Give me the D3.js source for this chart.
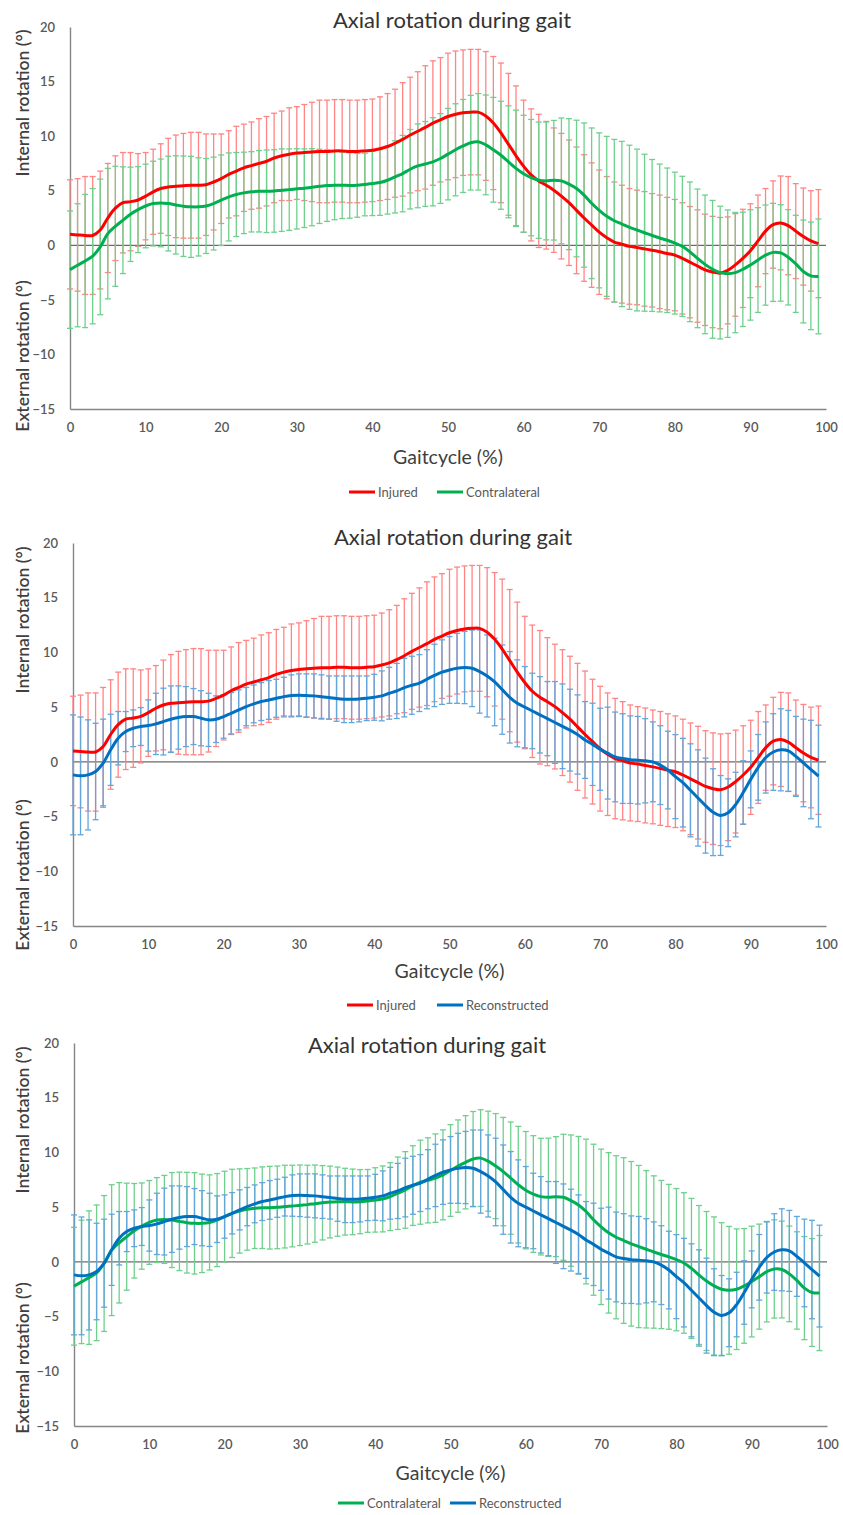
<!DOCTYPE html>
<html>
<head>
<meta charset="utf-8">
<script src="https://cdn.jsdelivr.net/npm/d3@7"></script>
<style>
  body { margin: 0; background: #fff; }
  svg text { font-family: Lato, "Open Sans", sans-serif; }
</style>
</head>
<body>
<svg id="chart" width="843" height="1515"></svg>
<script>
//===============================================//
// Data (degrees)
var gaitCycle = d3.range(0, 100);          // % of gait cycle, one sample per percent
var yTicks = [-15, -10, -5, 0, 5, 10, 15, 20];
var xTicks = [0, 10, 20, 30, 40, 50, 60, 70, 80, 90, 100];

var injuredMean = [1.0,0.95,0.9,0.9,1.4,2.5,3.4,3.9,4.0,4.15,
  4.5,4.9,5.2,5.35,5.4,5.45,5.5,5.5,5.55,5.8,
  6.1,6.5,6.8,7.1,7.3,7.5,7.7,8.0,8.2,8.35,
  8.45,8.5,8.55,8.6,8.6,8.65,8.65,8.6,8.6,8.65,
  8.7,8.85,9.05,9.35,9.7,10.1,10.45,10.8,11.2,11.5,
  11.8,12.0,12.15,12.2,12.2,11.85,11.2,10.3,9.25,8.2,
  7.25,6.45,5.9,5.5,5.05,4.5,3.9,3.2,2.5,1.85,
  1.2,0.7,0.3,0.1,-0.1,-0.2,-0.33,-0.46,-0.6,-0.76,
  -0.9,-1.2,-1.55,-1.9,-2.25,-2.45,-2.55,-2.3,-1.8,-1.2,
  -0.5,0.4,1.3,1.9,2.05,1.8,1.3,0.8,0.4,0.15];
var injuredSD = [5.0,5.15,5.4,5.4,5.4,5.0,4.8,4.6,4.5,4.25,
  4.0,3.9,4.1,4.45,4.7,4.8,4.85,4.85,4.65,4.4,
  4.1,4.0,4.1,4.0,4.0,4.1,4.1,4.1,4.1,4.25,
  4.25,4.4,4.55,4.7,4.7,4.7,4.7,4.7,4.7,4.7,
  4.7,4.75,4.85,4.95,5.2,5.3,5.45,5.65,5.7,5.7,
  5.8,5.8,5.75,5.75,5.75,5.9,6.1,6.4,6.5,6.4,
  6.05,6.05,6.1,5.85,5.7,5.75,5.75,5.8,5.8,5.7,
  5.7,5.6,5.5,5.4,5.3,5.25,5.25,5.2,5.2,5.15,
  5.1,5.1,5.1,5.15,5.1,5.1,5.1,4.9,4.7,4.5,
  4.3,4.2,3.9,4.0,4.3,4.5,4.35,4.45,4.6,4.95];

var contraMean = [-2.23,-1.83,-1.44,-1.0,-0.15,1.07,1.74,2.3,2.84,3.27,
  3.6,3.82,3.88,3.82,3.7,3.58,3.52,3.52,3.6,3.82,
  4.13,4.43,4.65,4.8,4.9,4.95,4.95,4.98,5.05,5.1,
  5.17,5.23,5.32,5.4,5.47,5.5,5.5,5.48,5.5,5.57,
  5.66,5.75,5.96,6.27,6.57,6.97,7.28,7.45,7.65,7.95,
  8.35,8.75,9.1,9.4,9.48,9.2,8.75,8.25,7.65,7.05,
  6.55,6.2,5.96,5.9,5.96,5.9,5.6,5.2,4.6,3.85,
  3.2,2.65,2.25,1.95,1.65,1.4,1.15,0.9,0.67,0.46,
  0.2,-0.1,-0.6,-1.2,-1.75,-2.2,-2.5,-2.6,-2.5,-2.2,
  -1.8,-1.35,-0.9,-0.65,-0.7,-1.1,-1.7,-2.4,-2.8,-2.85];
var contraSD = [5.38,5.64,6.1,6.2,6.21,5.98,5.5,4.89,4.32,3.94,
  3.83,3.88,4.02,4.34,4.5,4.6,4.63,4.5,4.35,4.25,
  4.15,4.03,3.85,3.73,3.68,3.73,3.78,3.78,3.78,3.73,
  3.68,3.6,3.53,3.4,3.28,3.16,3.05,3.0,2.93,2.87,
  2.94,3.01,3.1,3.31,3.5,3.64,3.84,3.89,4.04,4.11,
  4.19,4.22,4.26,4.34,4.42,4.57,4.8,4.95,5.13,5.33,
  5.36,5.33,5.33,5.4,5.48,5.76,6.0,6.26,6.61,6.9,
  7.1,7.33,7.45,7.57,7.52,7.41,7.19,6.96,6.77,6.62,
  6.5,6.42,6.4,6.35,6.35,6.31,6.08,5.84,5.51,5.24,
  5.06,4.8,4.59,4.49,4.42,4.37,4.45,4.71,4.93,5.26];

var reconMean = [-1.19,-1.28,-1.19,-0.88,-0.12,1.1,2.16,2.77,3.07,3.23,
  3.32,3.47,3.68,3.9,4.05,4.14,4.14,3.99,3.84,3.9,
  4.14,4.44,4.75,5.05,5.3,5.51,5.66,5.81,5.96,6.06,
  6.09,6.06,6.03,5.96,5.88,5.78,5.72,5.72,5.75,5.81,
  5.9,6.03,6.27,6.48,6.79,7.0,7.2,7.55,7.9,8.2,
  8.4,8.55,8.62,8.55,8.25,7.85,7.3,6.6,5.9,5.35,
  5.0,4.65,4.3,3.95,3.6,3.25,2.9,2.5,2.0,1.6,
  1.15,0.8,0.45,0.3,0.2,0.15,0.1,0.0,-0.3,-0.75,
  -1.35,-1.9,-2.6,-3.3,-4.0,-4.6,-4.9,-4.65,-3.9,-2.8,
  -1.6,-0.5,0.4,0.9,1.1,1.0,0.5,-0.1,-0.7,-1.3];
var reconSD = [5.48,5.38,5.03,4.41,4.02,3.25,2.44,1.83,1.68,1.73,
  2.34,2.8,3.05,3.04,2.89,2.74,2.56,2.52,2.43,2.13,
  1.98,1.89,1.83,1.75,1.73,1.73,1.77,1.74,1.77,1.89,
  1.95,1.98,2.01,1.99,1.97,2.07,2.13,2.13,2.1,2.04,
  2.1,2.28,2.37,2.52,2.68,2.65,2.6,2.7,2.85,2.95,
  3.05,3.2,3.3,3.5,3.8,3.75,4.0,4.08,4.18,3.97,
  3.71,3.45,3.49,3.39,3.74,3.87,3.74,3.62,3.51,3.76,
  3.75,4.2,4.1,4.1,4.0,4.0,3.85,3.65,3.6,3.55,
  3.84,4.05,4.25,4.4,4.34,3.97,3.65,3.1,2.95,2.9,
  2.6,3.0,3.25,3.5,3.75,3.7,3.65,4.0,4.5,4.65];

//===============================================//
// Series styles
var injured = { name: "Injured", mean: injuredMean, sd: injuredSD, line: "#ff0000", err: "#ff8585" };
var contra  = { name: "Contralateral", mean: contraMean, sd: contraSD, line: "#00b050", err: "#6fd08e" };
var recon   = { name: "Reconstructed", mean: reconMean, sd: reconSD, line: "#0070c0", err: "#62a6dc" };

// Panel layout (pixels)
var panels = [
  { series: [injured, contra], top: 27, bottom: 409, left: 70, right: 826,
    titleX: 452, titleY: 28, xTitleY: 464, legendY: 492, legendX: [349, 437],
    intY: 103, extY: 356 },
  { series: [injured, recon], top: 543, bottom: 926, left: 73, right: 826,
    titleX: 453, titleY: 545, xTitleY: 978, legendY: 1005, legendX: [347, 437],
    intY: 620, extY: 875 },
  { series: [contra, recon], top: 1043, bottom: 1426, left: 74, right: 827,
    titleX: 427, titleY: 1053, xTitleY: 1480, legendY: 1503, legendX: [338, 450],
    intY: 1120, extY: 1358 }
];

var svg = d3.select("#chart");

panels.forEach(drawPanel);

function drawPanel(p) {
    var x = d3.scaleLinear().domain([0, 100]).range([p.left, p.right]);
    var y = d3.scaleLinear().domain([-15, 20]).range([p.bottom, p.top]);
    var g = svg.append("g");

    //------------------------ axes ------------------------//
    var yAxis = g.append("g")
        .attr("transform", "translate(" + p.left + ",0)")
        .call(d3.axisLeft(y).tickValues(yTicks).tickSize(0).tickPadding(15));
    var xAxis = g.append("g")
        .attr("transform", "translate(0," + p.bottom + ")")
        .call(d3.axisBottom(x).tickValues(xTicks).tickSize(0).tickPadding(14));

    [yAxis, xAxis].forEach(function(a) {
        a.select(".domain").attr("stroke", "#858585").attr("stroke-width", 1.4);
        a.selectAll("text")
            .attr("fill", "#595959")
            .style("font-size", "13px")
            .style("font-weight", 600);
    });

    // zero line
    g.append("line")
        .attr("x1", x(0)).attr("x2", x(100))
        .attr("y1", y(0)).attr("y2", y(0))
        .attr("stroke", "#6b6b6b")
        .attr("stroke-width", 1.3);

    //------------------------ error bars ------------------------//
    p.series.forEach(function(s) {
        var pts = gaitCycle.map(function(d, i) {
            return { x: d, lo: s.mean[i] - s.sd[i], hi: s.mean[i] + s.sd[i] };
        });
        var eb = g.append("g")
            .attr("stroke", s.err)
            .attr("stroke-width", 1.3);
        eb.selectAll("line.bar")
            .data(pts).enter().append("line")
            .attr("class", "bar")
            .attr("x1", d => x(d.x)).attr("x2", d => x(d.x))
            .attr("y1", d => y(d.lo)).attr("y2", d => y(d.hi));
        ["lo", "hi"].forEach(function(k) {
            eb.selectAll("line.cap-" + k)
                .data(pts).enter().append("line")
                .attr("class", "cap-" + k)
                .attr("x1", d => x(d.x) - 3).attr("x2", d => x(d.x) + 3)
                .attr("y1", d => y(d[k])).attr("y2", d => y(d[k]));
        });
    });

    //------------------------ mean lines ------------------------//
    var line = d3.line()
        .x(function(d, i) { return x(gaitCycle[i]); })
        .y(function(d) { return y(d); })
        .curve(d3.curveCatmullRom.alpha(0.5));

    p.series.forEach(function(s) {
        g.append("path")
            .datum(s.mean)
            .attr("d", line)
            .attr("fill", "none")
            .attr("stroke", s.line)
            .attr("stroke-width", 3)
            .attr("stroke-linejoin", "round");
    });

    //------------------------ texts ------------------------//
    g.append("text")
        .attr("x", p.titleX).attr("y", p.titleY)
        .attr("text-anchor", "middle")
        .attr("fill", "#333")
        .style("font-size", "22px")
        .text("Axial rotation during gait");

    g.append("text")
        .attr("x", (p.left + p.right) / 2).attr("y", p.xTitleY)
        .attr("text-anchor", "middle")
        .attr("fill", "#404040")
        .style("font-size", "19.5px")
        .text("Gaitcycle (%)");

    [["Internal rotation (°)", p.intY], ["External rotation (°)", p.extY]].forEach(function(t) {
        g.append("text")
            .attr("transform", "translate(" + 23 + "," + t[1] + ") rotate(-90)")
            .attr("text-anchor", "middle")
            .attr("dy", "0.35em")
            .attr("fill", "#404040")
            .style("font-size", "17.5px")
            .style("font-weight", 600)
            .text(t[0]);
    });

    // legend
    p.series.forEach(function(s, i) {
        var lx = p.legendX[i];
        g.append("line")
            .attr("x1", lx).attr("x2", lx + 26)
            .attr("y1", p.legendY).attr("y2", p.legendY)
            .attr("stroke", s.line)
            .attr("stroke-width", 3);
        g.append("text")
            .attr("x", lx + 29).attr("y", p.legendY)
            .attr("dy", "0.35em")
            .attr("fill", "#595959")
            .style("font-size", "13px")
            .text(s.name);
    });
}
</script>
</body>
</html>
